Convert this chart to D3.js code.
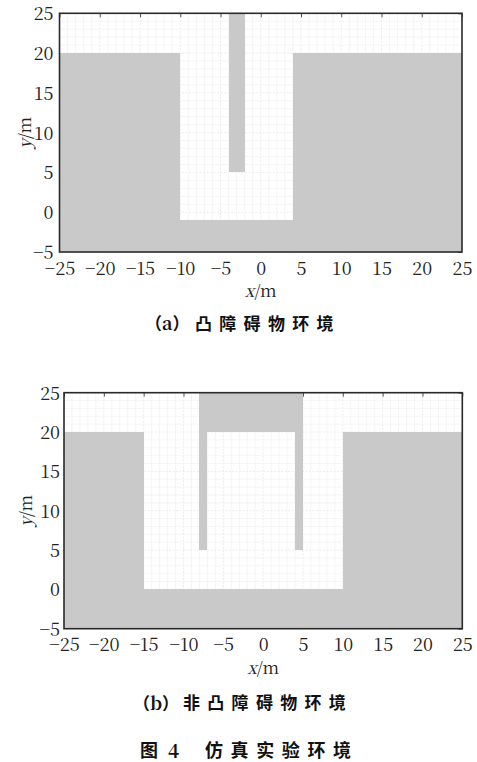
<!DOCTYPE html>
<html><head><meta charset="utf-8">
<script src="https://cdn.jsdelivr.net/npm/d3@7"></script>
<style>
html,body{margin:0;padding:0;background:#fff;}
svg{display:block;}
.serif{font-family:"Noto Serif CJK SC","Liberation Serif",serif;}
.cjk{font-family:"Noto Sans CJK SC","Noto Sans CJK JP",sans-serif;font-weight:bold;}
</style></head>
<body>
<script>
// ---- data ----
const xTicks = [-25,-20,-15,-10,-5,0,5,10,15,20,25];
const yTicks = [-5,0,5,10,15,20,25];
const xDomain = [-25,25];
const yDomain = [-5,25];
// obstacles: [x0, x1, y0, y1] in metres
const obstaclesA = [
  [-25,-10,-5,20],
  [-10,4,-5,-1],
  [4,25,-5,20],
  [-4,-2,5,25]
];
const obstaclesB = [
  [-25,-15,-5,20],
  [-15,10,-5,0],
  [10,25,-5,20],
  [-8,5,20,25],
  [-8,-7,5,20],
  [4,5,5,20]
];
const captionA = ["a","凸障碍物环境"];
const captionB = ["b","非凸障碍物环境"];
const figNo = "4";
const figTitle = "仿真实验环境";

const W = 477, H = 762;
const svg = d3.select("body").append("svg").attr("width",W).attr("height",H);

function panel(box, obstacles){
  const x = d3.scaleLinear().domain(xDomain).range([box.l, box.r]);
  const y = d3.scaleLinear().domain(yDomain).range([box.b, box.t]);
  const g = svg.append("g");
  // grid
  const minor = d3.range(xDomain[0], xDomain[1]+1, 1);
  const minorY = d3.range(yDomain[0], yDomain[1]+1, 1);
  g.append("g").selectAll("line").data(minor).join("line")
    .attr("x1", d=>x(d)).attr("x2", d=>x(d)).attr("y1", box.t).attr("y2", box.b)
    .attr("stroke", d=> d%5===0 ? "#e4e4e4" : "#f1f1f1").attr("stroke-width",0.7)
    .attr("stroke-dasharray", d=> d%5===0 ? "2,1.5" : null);
  g.append("g").selectAll("line").data(minorY).join("line")
    .attr("y1", d=>y(d)).attr("y2", d=>y(d)).attr("x1", box.l).attr("x2", box.r)
    .attr("stroke", d=> d%5===0 ? "#e4e4e4" : "#f1f1f1").attr("stroke-width",0.7)
    .attr("stroke-dasharray", d=> d%5===0 ? "2,1.5" : null);
  // inward ticks
  const tl = 4;
  g.append("g").call(d3.axisTop(x).tickValues(xTicks).tickSize(-tl).tickFormat(""))
    .attr("transform",`translate(0,${box.t})`).call(a=>a.select(".domain").remove())
    .selectAll("line").attr("stroke","#555");
  g.append("g").call(d3.axisRight(y).tickValues(yTicks).tickSize(-tl).tickFormat(""))
    .attr("transform",`translate(${box.r},0)`).call(a=>a.select(".domain").remove())
    .selectAll("line").attr("stroke","#555");
  // obstacles
  g.append("g").selectAll("rect").data(obstacles).join("rect")
    .attr("x", d=>x(d[0])).attr("width", d=>x(d[1])-x(d[0]))
    .attr("y", d=>y(d[3])).attr("height", d=>y(d[2])-y(d[3]))
    .attr("fill","#c9c9c9").attr("shape-rendering","crispEdges");
  // frame
  g.append("rect").attr("x",box.l).attr("y",box.t).attr("width",box.r-box.l).attr("height",box.b-box.t)
    .attr("fill","none").attr("stroke","#2a2a2a").attr("stroke-width",1.6);
  // tick labels
  const fmt = d3.format("d");
  const xa = g.append("g").attr("transform",`translate(0,${box.b})`)
    .call(d3.axisBottom(x).tickValues(xTicks).tickSize(0).tickPadding(0).tickFormat(fmt));
  xa.select(".domain").remove();
  xa.attr("font-family",null).attr("font-size",null);
  xa.selectAll("text").attr("class","serif").style("font-size","18px")
    .attr("fill","#222").attr("y",16.5).attr("dy","0.35em");
  const ya = g.append("g").attr("transform",`translate(${box.l},0)`)
    .call(d3.axisLeft(y).tickValues(yTicks).tickSize(0).tickPadding(box.lp).tickFormat(fmt));
  ya.select(".domain").remove();
  ya.attr("font-family",null).attr("font-size",null);
  ya.selectAll("text").attr("class","serif").style("font-size","18px")
    .attr("fill","#222").attr("dy","0.36em");
  // axis labels
  const xl = g.append("text").attr("class","serif").attr("x",x(0)).attr("y",box.b+37).attr("text-anchor","middle")
    .attr("dominant-baseline","central").style("font-size","17px").attr("fill","#222");
  xl.append("tspan").attr("font-style","italic").text("x");
  xl.append("tspan").text("/m");
  const yl = g.append("text").attr("class","serif").attr("transform",`translate(${box.yl},${(box.t+box.b)/2}) rotate(-90)`)
    .attr("text-anchor","middle").attr("dominant-baseline","central")
    .style("font-size","17px").attr("fill","#222");
  yl.append("tspan").attr("font-style","italic").text("y");
  yl.append("tspan").text("/m");
}

panel({l:59.5, r:462, t:13.3, b:252, lp:6, yl:23}, obstaclesA);
panel({l:64, r:462.3, t:392.7, b:628.7, lp:4, yl:24}, obstaclesB);

function caption(cy, letter, txt, startCJK){
  const t = svg.append("text").attr("class","cjk").attr("x", startCJK-50).attr("y", cy).attr("dominant-baseline","central")
    .style("font-size","17px").attr("fill","#111");
  t.append("tspan").text("（");
  t.append("tspan").attr("class","serif").style("font-weight","bold").style("font-size","18px").text(letter);
  t.append("tspan").text("）");
  svg.append("text").attr("class","cjk").attr("x", startCJK).attr("y", cy).attr("dominant-baseline","central")
    .style("font-size","17px").style("letter-spacing","7.3px").attr("fill","#111").text(txt);
}
caption(322, captionA[0], captionA[1], 195);
caption(701.5, captionB[0], captionB[1], 183);

svg.append("text").attr("class","cjk").attr("x",140).attr("y",749).attr("dominant-baseline","central")
  .style("font-size","18px").attr("fill","#111").text("图");
svg.append("text").attr("class","serif").attr("x",168).attr("y",749).attr("dominant-baseline","central")
  .style("font-size","19px").style("font-weight","bold").attr("fill","#111").text(figNo);
svg.append("text").attr("class","cjk").attr("x",205).attr("y",749).attr("dominant-baseline","central")
  .style("font-size","18px").style("letter-spacing","7.6px").attr("fill","#111").text(figTitle);
</script>
</body></html>
